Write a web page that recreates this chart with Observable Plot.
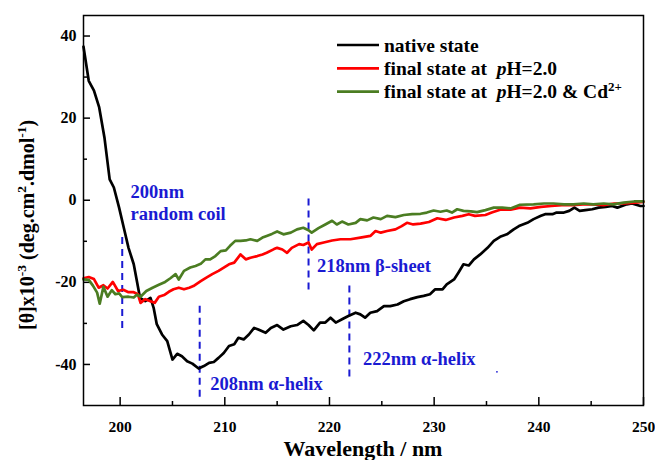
<!DOCTYPE html>
<html><head><meta charset="utf-8">
<script src="https://cdn.jsdelivr.net/npm/d3@7"></script>
<script src="https://cdn.jsdelivr.net/npm/@observablehq/plot@0.6"></script>
<style>
html,body{margin:0;padding:0;background:#fff;overflow:hidden}
svg text, svg tspan{font-family:"Liberation Serif","Times New Roman",serif}
</style>
</head><body><div id="chart"></div>
<script>
// ---- data ----
const nativeWl = [196.5,197.0,197.5,198.0,198.5,199.0,199.4,199.9,200.35,200.8,201.3,201.6,201.9,202.4,202.9,203.2,203.5,204.0,204.5,205.0,205.45,205.9,206.4,206.9,207.5,208.0,208.5,208.95,209.4,209.9,210.4,210.9,211.3,211.8,212.3,212.8,213.2,213.9,214.4,215.0,215.6,216.3,216.9,217.5,218.0,218.5,219.1,219.6,220.1,220.6,221.2,221.8,222.5,222.95,223.4,223.9,224.55,225.2,225.8,226.5,227.1,227.7,228.4,229.0,229.6,230.1,230.8,231.2,231.9,232.3,232.8,233.3,233.8,234.4,235.1,235.7,236.3,236.95,237.6,238.1,238.9,239.5,240.2,240.6,241.3,241.7,242.4,242.9,243.4,243.9,244.45,245.1,245.7,246.4,247.0,247.5,247.95,248.4,248.9,249.7,250];
const nativeTheta = [37.4,29.1,26.7,22.6,15.3,5.1,3.1,-1.8,-6.7,-11.6,-15.6,-19.7,-23.8,-24.6,-23.8,-26.2,-30.2,-32.7,-34.3,-38.8,-37.4,-38.0,-39.2,-39.8,-41.0,-40.4,-39.6,-39.4,-38.4,-37.2,-35.5,-35.1,-33.5,-33.9,-32.7,-31.1,-31.5,-32.3,-31.1,-30.4,-31.5,-30.7,-30.4,-29.4,-30.4,-31.7,-29.8,-29.8,-28.6,-29.8,-29.0,-28.2,-27.4,-27.8,-28.6,-27.4,-27.0,-25.8,-25.8,-25.4,-24.6,-24.1,-23.6,-23.3,-22.9,-21.7,-21.7,-20.5,-19.3,-17.7,-15.6,-15.9,-14.4,-13.2,-11.6,-9.9,-8.9,-8.3,-7.1,-6.3,-5.5,-4.6,-3.8,-3.4,-3.4,-3.0,-3.0,-2.6,-1.8,-2.6,-2.4,-2.2,-1.8,-1.6,-1.4,-1.8,-1.4,-1.0,-0.8,-1.4,-1.4];

const acidWl = [196.5,197.0,197.5,197.95,198.4,198.8,199.3,199.8,200.3,200.8,201.3,201.7,201.95,202.4,202.9,203.3,203.7,204.2,204.65,205.1,205.6,206.1,206.6,207.0,207.7,208.2,208.8,209.4,209.9,210.4,210.9,211.5,212.0,212.45,213.1,213.6,214.0,214.7,215.0,215.5,215.95,216.4,217.1,217.5,218.0,218.3,218.8,219.45,220.25,221.05,222.0,222.95,223.9,224.4,224.9,225.5,226.3,226.9,227.4,228.0,228.7,229.5,230.3,231.1,231.9,232.7,233.3,233.9,234.9,235.5,236.3,237.3,238.2,239.2,240.2,241.2,242.2,243.2,244.2,245.2,246.2,247.2,248.2,249.2,250];
const acidTheta = [-19.0,-18.7,-19.2,-21.3,-20.7,-21.5,-19.9,-22.1,-21.8,-22.4,-22.4,-22.9,-25.0,-24.1,-24.6,-25.0,-23.5,-23.1,-22.3,-21.7,-21.3,-21.7,-21.3,-20.9,-19.7,-18.9,-18.0,-17.2,-16.4,-15.6,-15.2,-13.2,-14.4,-14.0,-13.6,-13.2,-12.8,-11.9,-11.6,-12.0,-12.8,-11.6,-10.7,-10.9,-10.3,-12.0,-10.7,-10.3,-9.8,-9.5,-9.5,-9.1,-8.7,-7.5,-7.9,-7.5,-7.1,-6.3,-5.5,-5.9,-5.7,-5.3,-4.4,-4.8,-4.2,-3.8,-3.4,-3.8,-3.6,-3.0,-2.3,-2.3,-1.8,-2.0,-1.6,-1.4,-1.2,-1.2,-1.0,-1.0,-1.2,-0.8,-0.8,-0.6,-0.4];

const cdWl = [196.5,197.0,197.4,197.8,198.05,198.4,198.8,199.2,199.55,199.9,200.2,200.8,201.3,201.6,201.95,202.5,203.1,203.7,204.3,204.8,205.3,205.6,206.1,206.7,207.2,207.7,208.15,208.6,209.1,209.6,210.1,210.5,211.0,211.5,212.0,212.45,213.1,213.6,214.0,214.5,215.0,215.6,216.3,216.9,217.5,218.0,218.3,218.95,219.6,220.25,220.7,221.2,221.8,222.5,222.95,223.6,224.2,224.9,225.5,226.3,227.1,227.9,228.7,229.3,229.95,230.6,231.2,231.7,232.2,232.8,233.5,234.1,234.9,235.7,236.5,237.3,238.2,239.5,240.5,241.4,242.4,243.3,244.3,245.2,246.2,247.1,248.1,249.1,250];
const cdTheta = [-19.3,-19.4,-20.8,-22.5,-25.2,-21.1,-23.5,-21.9,-22.9,-22.7,-23.6,-23.5,-23.7,-23.0,-23.5,-22.1,-21.3,-20.6,-19.9,-19.0,-18.0,-19.3,-17.2,-16.4,-16.0,-15.5,-14.4,-14.4,-13.6,-12.4,-12.2,-11.1,-9.9,-9.9,-9.8,-9.5,-9.9,-9.1,-8.7,-8.2,-7.6,-8.3,-7.9,-7.1,-6.7,-7.3,-7.9,-6.8,-5.9,-5.0,-5.9,-5.2,-5.9,-5.5,-4.6,-4.9,-4.2,-4.6,-3.8,-4.1,-3.6,-3.4,-3.3,-3.0,-2.5,-2.8,-2.5,-3.0,-2.2,-2.6,-2.7,-2.9,-2.4,-1.8,-1.8,-2.0,-1.1,-1.0,-0.8,-0.8,-1.0,-1.0,-0.8,-1.0,-0.8,-1.0,-0.6,-0.3,-0.3];

const seriesColors = ["#000000", "#ff0000", "#4b7d22"];
const annotationColor = "#1a1ad2";

const xMajorTicks = [200, 210, 220, 230, 240, 250];
const xMinorTicks = [205, 215, 225, 235, 245];
const yMajorTicks = [40, 20, 0, -20, -40];
const yMinorTicks = [30, 10, -10, -30];

const markerWl = [200.2, 207.6, 218.0, 221.9];
const markerTop = [-9.1, -25.8, 0.3, -20.9];
const markerBottom = [-31.9, -49.0, -22.5, -43.6];

const noteText = ["200nm", "random coil", "208nm α-helix", "218nm β-sheet", "222nm α-helix"];
const noteWl = [201.0, 201.0, 208.6, 218.8, 223.2];
const noteTheta = [1.9, -3.4, -44.9, -16.0, -38.8];

const dotWl = [236.0];
const dotTheta = [-41.8];

// ---- build tables ----
const zip = (xs, ys) => xs.map((x, i) => ({x, y: ys[i]}));
const nativeData = zip(nativeWl, nativeTheta);
const acidData = zip(acidWl, acidTheta);
const cdData = zip(cdWl, cdTheta);
const markers = markerWl.map((x, i) => ({x, y1: markerTop[i], y2: markerBottom[i]}));
const notes = noteText.map((t, i) => ({t, x: noteWl[i], y: noteTheta[i]}));
const dots = zip(dotWl, dotTheta);

const FONT = '"Liberation Serif", "Times New Roman", serif';
const W = 655, H = 460, mL = 83, mR = 12, mT = 15, mB = 55;
const innerW = W - mL - mR, innerH = H - mT - mB;

const chart = Plot.plot({
  width: W, height: H,
  marginLeft: mL, marginRight: mR, marginTop: mT, marginBottom: mB,
  style: {fontFamily: FONT, color: "black", background: "white"},
  x: {domain: [196.5, 250]},
  y: {domain: [-50, 45]},
  marks: [
    Plot.tickX(xMajorTicks, {x: d => d, insetTop: innerH - 8, stroke: "black", strokeWidth: 1.5}),
    Plot.tickX(xMinorTicks, {x: d => d, insetTop: innerH - 4, stroke: "black", strokeWidth: 1.5}),
    Plot.tickY(yMajorTicks, {y: d => d, insetRight: innerW - 7, stroke: "black", strokeWidth: 1.5}),
    Plot.tickY(yMinorTicks, {y: d => d, insetRight: innerW - 4, stroke: "black", strokeWidth: 1.5}),
    Plot.axisX(xMajorTicks, {tickSize: 0, tickPadding: 15, fontSize: 15.5, fontWeight: "bold", fontFamily: FONT, label: null, tickFormat: d => String(d)}),
    Plot.axisY(yMajorTicks, {tickSize: 0, tickPadding: 7, fontSize: 16, fontWeight: "bold", fontFamily: FONT, label: null, tickFormat: d => String(d)}),
    Plot.ruleX(markers, {x: "x", y1: "y1", y2: "y2", stroke: annotationColor, strokeWidth: 2, strokeDasharray: "7,5"}),
    Plot.line(nativeData, {x: "x", y: "y", stroke: seriesColors[0], strokeWidth: 2.7}),
    Plot.line(acidData, {x: "x", y: "y", stroke: seriesColors[1], strokeWidth: 2.7}),
    Plot.line(cdData, {x: "x", y: "y", stroke: seriesColors[2], strokeWidth: 2.7}),
    Plot.text(notes, {x: "x", y: "y", text: "t", textAnchor: "start", fill: annotationColor, fontSize: 18.5, fontWeight: "bold", fontFamily: FONT}),
    Plot.dot(dots, {x: "x", y: "y", r: 0.9, fill: annotationColor, stroke: null}),
    Plot.frame({stroke: "black", strokeWidth: 1.5})
  ]
});

const svg = d3.select(chart);

// y-axis title with superscripts (starts at the bottom, reads upward)
const yt = svg.append("text")
  .attr("transform", "translate(27,330) rotate(-90)")
  .attr("text-anchor", "start").attr("dy", "0.35em")
  .attr("font-family", FONT)
  .attr("font-size", 20).attr("font-weight", "bold").attr("fill", "black")
  .style("white-space", "pre");
const yParts = [["[θ]x10", 0], ["-3", 1], [" (deg.cm", 0], ["2", 1], [".dmol", 0], ["-1", 1], [")", 0]];
let prevSup = 0;
yParts.forEach(([txt, sup]) => {
  const ts = yt.append("tspan").text(txt);
  const shift = (sup ? -8 : 0) - (prevSup ? -8 : 0);
  if (shift) ts.attr("dy", shift);
  if (sup) ts.attr("font-size", 13.5);
  prevSup = sup;
});

// x-axis title
svg.append("text")
  .attr("x", mL + innerW / 2).attr("y", 456)
  .attr("text-anchor", "middle")
  .attr("font-family", FONT)
  .attr("font-size", 22).attr("font-weight", "bold").attr("fill", "black")
  .text("Wavelength / nm");

// legend
const legendRows = [
  [["native state", ""]],
  [["final state at  ", ""], ["p", "italic"], ["H=2.0", ""]],
  [["final state at  ", ""], ["p", "italic"], ["H=2.0 & Cd", ""], ["2+", "sup"]]
];
const lg = svg.append("g");
legendRows.forEach((row, i) => {
  const yy = 45 + i * 23.3;
  lg.append("line").attr("x1", 337).attr("x2", 379).attr("y1", yy).attr("y2", yy)
    .attr("stroke", seriesColors[i]).attr("stroke-width", 2.7);
  const t = lg.append("text").attr("x", 384).attr("y", yy).attr("dy", "0.35em")
    .attr("text-anchor", "start")
    .attr("font-family", FONT)
    .attr("font-size", 19.5).attr("font-weight", "bold").attr("fill", "black")
    .style("white-space", "pre");
  row.forEach(([txt, kind]) => {
    const ts = t.append("tspan").text(txt);
    if (kind === "italic") ts.attr("font-style", "italic");
    if (kind === "sup") ts.attr("font-size", 13).attr("dy", -7);
  });
});

document.getElementById("chart").appendChild(chart);
</script>
</body></html>
